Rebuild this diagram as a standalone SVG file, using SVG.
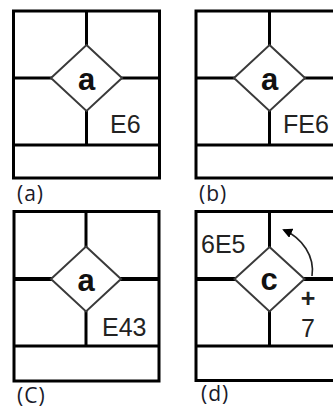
<svg xmlns="http://www.w3.org/2000/svg" width="333" height="408" viewBox="0 0 333 408">
<style>
.frame{fill:none;stroke:#000;stroke-width:3}
.ln{stroke:#000;stroke-width:3;fill:none}
.thick{stroke:#000;stroke-width:4;fill:none}
.dia{fill:#fff;stroke:#3a3a3a;stroke-width:2}
.big{font-family:"Liberation Sans",Arial,sans-serif;font-size:31px;font-weight:bold;fill:#111;text-anchor:middle}
.val{font-family:"Liberation Sans",Arial,sans-serif;font-size:25px;fill:#222}
.cap{font-family:"Open Sans","DejaVu Sans",sans-serif;font-size:21px;fill:#1a1a2a;letter-spacing:1px}
</style>
<defs>
<marker id="ah" markerWidth="10" markerHeight="10" refX="8" refY="5" orient="auto" markerUnits="userSpaceOnUse">
<path d="M0,0 L10,5 L0,10 Z" fill="#000"/>
</marker>
</defs>
<rect width="333" height="408" fill="#fff"/>
<g id="panel-a">
<rect class="frame" x="13.5" y="11" width="146" height="167"/>
<line class="ln" x1="13.5" y1="145" x2="159.5" y2="145"/>
<line class="ln" x1="86.5" y1="11" x2="86.5" y2="145"/>
<line class="ln" x1="13.5" y1="78" x2="159.5" y2="78"/>
<polygon class="dia" points="86.5,45 122,78 86.5,111 51,78"/>
<text class="big" x="86.5" y="90">a</text>
<text class="val" x="110" y="133">E6</text>
<text class="cap" x="17" y="201">(a)</text>
</g>
<g id="panel-b">
<rect class="frame" x="196" y="11" width="146" height="167"/>
<line class="ln" x1="196" y1="145" x2="342" y2="145"/>
<line class="ln" x1="269.5" y1="11" x2="269.5" y2="145"/>
<line class="ln" x1="196" y1="78" x2="342" y2="78"/>
<polygon class="dia" points="269.5,45 305,78 269.5,111 234,78"/>
<text class="big" x="269.5" y="90">a</text>
<text class="val" x="283" y="133">FE6</text>
<text class="cap" x="199" y="201">(b)</text>
</g>
<g id="panel-c">
<rect class="frame" x="14" y="211.5" width="145" height="169.5"/>
<line class="ln" x1="14" y1="346" x2="159" y2="346"/>
<line class="ln" x1="86" y1="211.5" x2="86" y2="346"/>
<line class="thick" x1="14" y1="279" x2="159" y2="279"/>
<polygon class="dia" points="86,246.5 121,279 86,311.5 51,279"/>
<text class="big" x="86" y="291">a</text>
<text class="val" x="102" y="336">E43</text>
<text class="cap" x="17" y="403">(C)</text>
</g>
<g id="panel-d">
<rect class="frame" x="196" y="211.5" width="146" height="169"/>
<line class="ln" x1="196" y1="346" x2="342" y2="346"/>
<line class="ln" x1="269.5" y1="211.5" x2="269.5" y2="346"/>
<line class="thick" x1="196" y1="279" x2="342" y2="279"/>
<polygon class="dia" points="269.5,247 304.5,279 269.5,311.5 234.5,279"/>
<text class="big" x="269" y="290" font-size="28">c</text>
<text class="val" x="201" y="253">6E5</text>
<text class="val" x="308" y="307" text-anchor="middle" font-weight="bold">+</text>
<text class="val" x="308" y="337" text-anchor="middle">7</text>
<text class="cap" x="201" y="401">(d)</text>
</g>
<g id="connectors">
<path d="M312,276 C315,256 302,238 284,230" fill="none" stroke="#222" stroke-width="1.6" marker-end="url(#ah)"/>
</g>
</svg>
